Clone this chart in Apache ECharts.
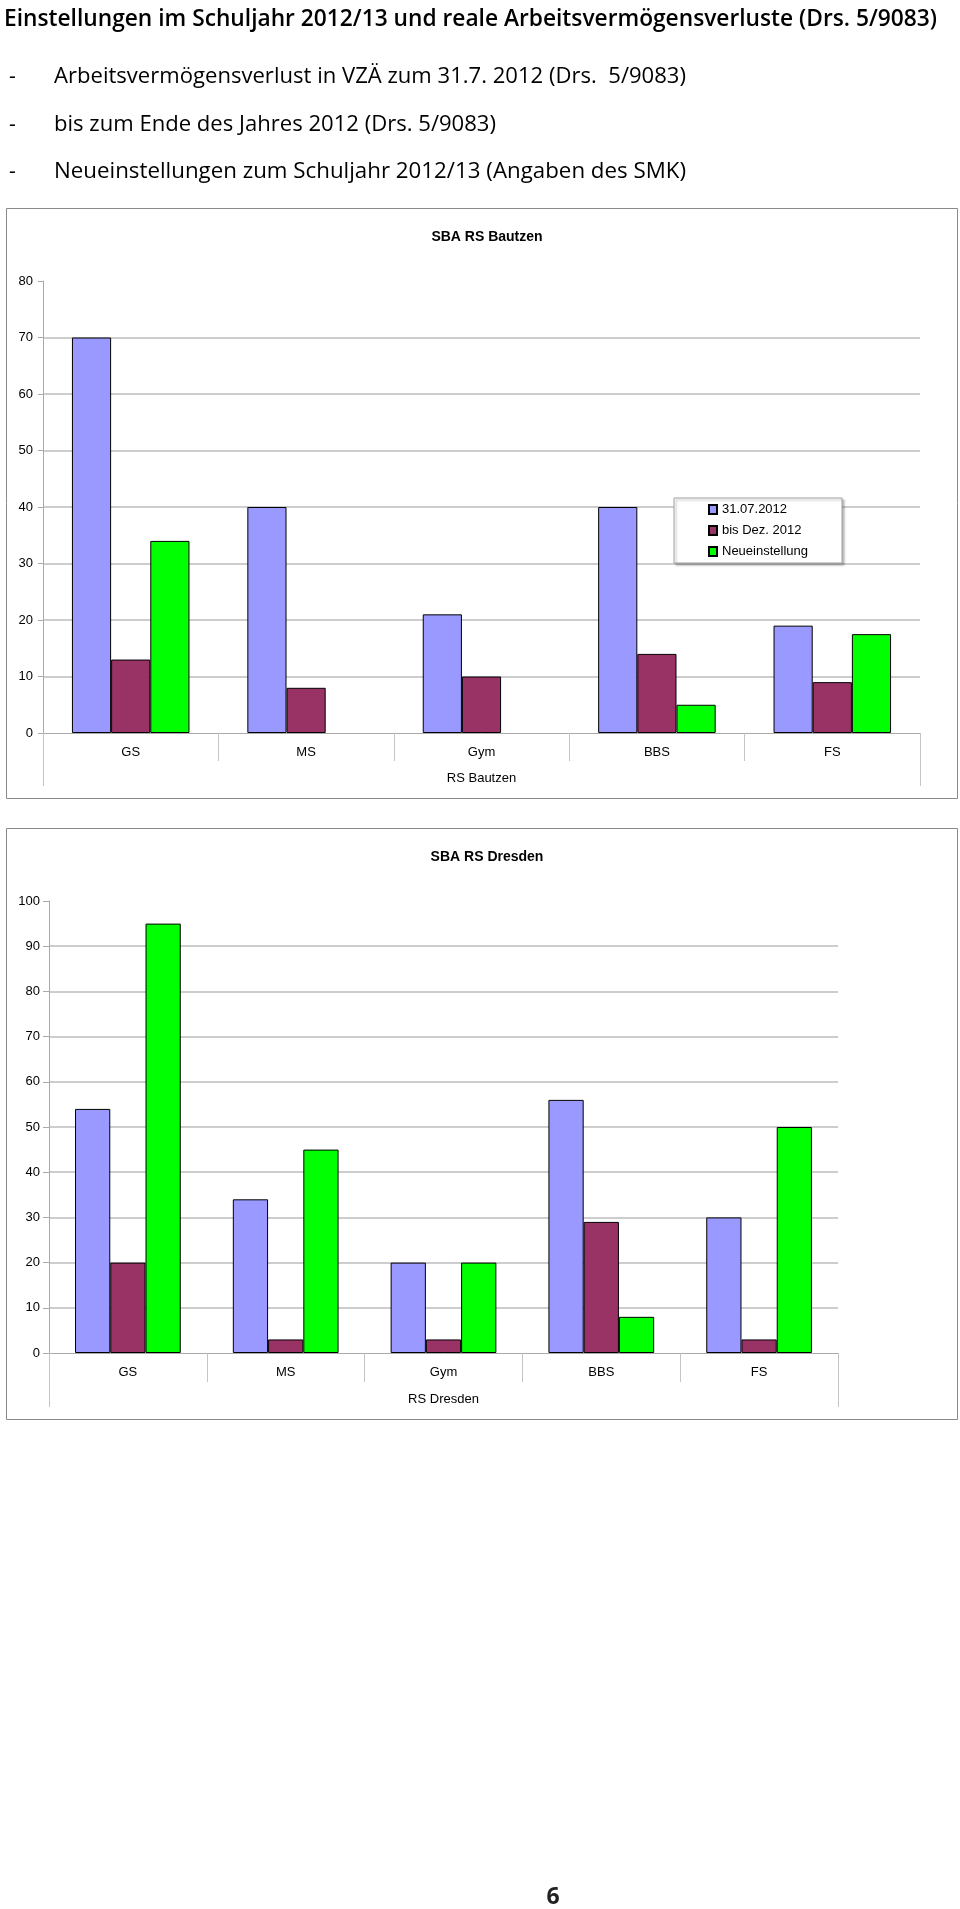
<!DOCTYPE html>
<html>
<head>
<meta charset="utf-8">
<script src="https://cdn.jsdelivr.net/npm/echarts@6/dist/echarts.min.js"></script>
<style>
  html, body { margin: 0; padding: 0; background: #fff; }
  #main { width: 960px; height: 1909px; }
</style>
</head>
<body>
<div id="main"></div>
<script>
// ---------- data ----------
const headerTitle = 'Einstellungen im Schuljahr 2012/13 und reale Arbeitsvermögensverluste (Drs. 5/9083)';
const bulletLines = [
  'Arbeitsvermögensverlust in VZÄ zum 31.7. 2012 (Drs.  5/9083)',
  'bis zum Ende des Jahres 2012 (Drs. 5/9083)',
  'Neueinstellungen zum Schuljahr 2012/13 (Angaben des SMK)'
];
const pageNumber = '6';

const categories = ['GS', 'MS', 'Gym', 'BBS', 'FS'];
const seriesNames = ['31.07.2012', 'bis Dez. 2012', 'Neueinstellung'];

const bautzenTitle = 'SBA RS Bautzen';
const bautzenGroup = 'RS Bautzen';
const bautzenJuly = [70, 40, 21, 40, 19];
const bautzenDec  = [13, 8, 10, 14, 9];
const bautzenNew  = [34, null, null, 5, 17.5];

const dresdenTitle = 'SBA RS Dresden';
const dresdenGroup = 'RS Dresden';
const dresdenJuly = [54, 34, 20, 56, 30];
const dresdenDec  = [20, 3, 3, 29, 3];
const dresdenNew  = [95, 45, 20, 8, 50];

// ---------- style ----------
const colors = ['#9999FF', '#993366', '#00FF00'];
const chartFont = 'Liberation Sans, Arial, sans-serif';
const gridColor = '#bdbdbd';

const canvas = document.createElement('canvas');
const ctx = canvas.getContext('2d');
function fitScale(text, font, target) {
  ctx.font = font;
  const w = ctx.measureText(text).width;
  return w > 0 ? target / w : 1;
}

const titleFont = "600 24px 'Open Sans'";
const lineFont = "500 21px 'Open Sans'";
const lineTargets = [632, 442, 632];
const lineYs = [77, 125, 172];

const graphics = [];
graphics.push({
  type: 'text', x: 4, y: 19,
  scaleX: fitScale(headerTitle, titleFont, 933),
  style: { text: headerTitle, font: titleFont, fill: '#000', align: 'left', verticalAlign: 'middle' }
});
bulletLines.forEach((t, i) => {
  graphics.push({
    type: 'text', x: 9, y: lineYs[i],
    style: { text: '-', font: lineFont, fill: '#000', align: 'left', verticalAlign: 'middle' }
  });
  graphics.push({
    type: 'text', x: 54, y: lineYs[i],
    scaleX: fitScale(t, lineFont, lineTargets[i]),
    style: { text: t, font: lineFont, fill: '#000', align: 'left', verticalAlign: 'middle' }
  });
});
// chart frames
graphics.push({ type: 'rect', z: -10, shape: { x: 6.5, y: 208.5, width: 951, height: 590 },
  style: { fill: '#fff', stroke: '#8a8a8a', lineWidth: 1 } });
graphics.push({ type: 'rect', z: -10, shape: { x: 6.5, y: 828.5, width: 951, height: 591 },
  style: { fill: '#fff', stroke: '#8a8a8a', lineWidth: 1 } });
// page number
graphics.push({ type: 'text', x: 553, y: 1897,
  style: { text: pageNumber, font: "700 23px 'Open Sans'", fill: '#222', align: 'center', verticalAlign: 'middle' } });

function yAxis(gridIndex, max, margin, tickLen) {
  return {
    type: 'value', gridIndex, min: 0, max, interval: 10,
    axisLine: { show: true, lineStyle: { color: '#aaaaaa', width: 1 } },
    axisTick: { show: true, length: tickLen, lineStyle: { color: '#aaaaaa' } },
    axisLabel: { margin, fontFamily: chartFont, fontSize: 13, color: '#000' },
    splitLine: { show: true, showMaxLine: false, showMinLine: false, lineStyle: { color: gridColor, width: 1.6 } }
  };
}
function xAxisLevel1(gridIndex, margin, tickLen) {
  return {
    type: 'category', gridIndex, data: categories, position: 'bottom',
    axisLine: { show: true, onZero: false, lineStyle: { color: '#aaaaaa', width: 1 } },
    axisTick: { show: true, length: tickLen, lineStyle: { color: '#c4c4c4' } },
    axisLabel: { margin, fontFamily: chartFont, fontSize: 13, color: '#000' },
    splitLine: { show: false }
  };
}
function xAxisLevel2(gridIndex, label, margin, tickLen) {
  return {
    type: 'category', gridIndex, data: [label], position: 'bottom',
    axisLine: { show: false },
    axisTick: { show: true, length: tickLen, lineStyle: { color: '#c4c4c4' } },
    axisLabel: { margin, fontFamily: chartFont, fontSize: 13, color: '#000' },
    splitLine: { show: false }
  };
}
function bar(name, data, idx, xi, yi) {
  return {
    type: 'bar', name, data, xAxisIndex: xi, yAxisIndex: yi,
    barGap: '0%', barCategoryGap: '33%',
    itemStyle: { color: colors[idx], borderColor: '#000', borderWidth: 1 },
    emphasis: { disabled: true }, animation: false
  };
}

const option = {
  animation: false,
  graphic: graphics,
  title: [
    { text: bautzenTitle, left: 482, top: 225, textAlign: 'center',
      textStyle: { fontFamily: chartFont, fontSize: 14, fontWeight: 'bold', color: '#000' } },
    { text: dresdenTitle, left: 482, top: 845, textAlign: 'center',
      textStyle: { fontFamily: chartFont, fontSize: 14, fontWeight: 'bold', color: '#000' } }
  ],
  legend: {
    data: seriesNames, orient: 'vertical', left: 674, top: 498,
    itemWidth: 8, itemHeight: 9, itemGap: 6, icon: 'rect',
    padding: [4, 34, 4, 34], borderColor: '#a0a0a0', borderWidth: 1, backgroundColor: '#fff',
    shadowColor: 'rgba(0,0,0,0.25)', shadowOffsetX: 2, shadowOffsetY: 2, shadowBlur: 2,
    selectedMode: false,
    textStyle: { fontFamily: chartFont, fontSize: 13, color: '#000', lineHeight: 15 }
  },
  grid: [
    { left: 43, top: 281, width: 877, height: 452, containLabel: false },
    { left: 49, top: 901, width: 789, height: 452, containLabel: false }
  ],
  xAxis: [
    xAxisLevel1(0, 13, 28),
    xAxisLevel2(0, bautzenGroup, 39, 53),
    xAxisLevel1(1, 13, 29),
    xAxisLevel2(1, dresdenGroup, 40, 54)
  ],
  yAxis: [
    yAxis(0, 80, 10, 5),
    yAxis(1, 100, 9, 6)
  ],
  series: [
    bar(seriesNames[0], bautzenJuly, 0, 0, 0),
    bar(seriesNames[1], bautzenDec, 1, 0, 0),
    bar(seriesNames[2], bautzenNew, 2, 0, 0),
    bar(seriesNames[0], dresdenJuly, 0, 2, 1),
    bar(seriesNames[1], dresdenDec, 1, 2, 1),
    bar(seriesNames[2], dresdenNew, 2, 2, 1)
  ]
};

const chart = echarts.init(document.getElementById('main'), null, { renderer: 'canvas' });
chart.setOption(option);
</script>
</body>
</html>
